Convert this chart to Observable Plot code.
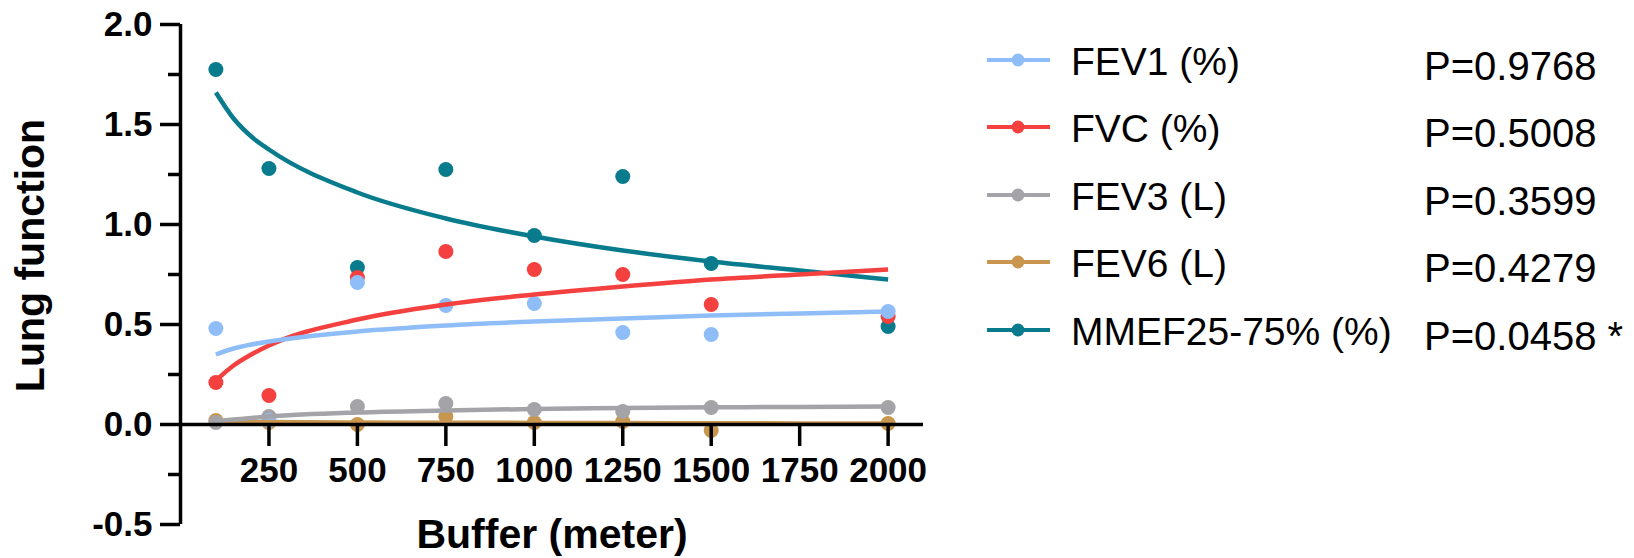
<!DOCTYPE html>
<html>
<head>
<meta charset="utf-8">
<script src="https://cdn.jsdelivr.net/npm/d3@7"></script>
<script src="https://cdn.jsdelivr.net/npm/@observablehq/plot@0.6"></script>
<style>
  html, body { margin: 0; padding: 0; background: #fff; }
  #wrap { position: relative; width: 1634px; height: 558px; font-family: "Liberation Sans", Arial, sans-serif; }
  #chart { position: absolute; left: 0; top: 0; }
  .row { position: absolute; left: 0; height: 0; }
  .sw { position: absolute; left: 986px; top: -8px; }
  .name { position: absolute; left: 1071px; font-size: 39px; line-height: 1; white-space: nowrap; transform: translateY(-50%); color: #000; }
  .pval { position: absolute; left: 1424px; font-size: 40px; line-height: 1; white-space: nowrap; transform: translateY(-50%); color: #000; }
</style>
</head>
<body>
<div id="wrap"><div id="chart"></div><div id="legend"></div></div>
<script>
// ---- data ----
const buffers = [100, 250, 500, 750, 1000, 1250, 1500, 2000];
const seriesNames = ["FEV1 (%)", "FVC (%)", "FEV3 (L)", "FEV6 (L)", "MMEF25-75% (%)"];
const pValues = ["P=0.9768", "P=0.5008", "P=0.3599", "P=0.4279", "P=0.0458 *"];
const colors = ["#8fbdf8", "#f4403f", "#a3a3a8", "#c8964e", "#087b8c"];

const fev1 = [0.48, 0.02, 0.71, 0.595, 0.605, 0.46, 0.45, 0.565];
const fvc  = [0.21, 0.145, 0.735, 0.865, 0.775, 0.75, 0.60, 0.54];
const fev3 = [0.01, 0.04, 0.09, 0.105, 0.075, 0.065, 0.085, 0.085];
const fev6 = [0.02, 0.01, 0.0, 0.04, 0.01, 0.015, -0.03, 0.005];
const mmef = [1.775, 1.28, 0.785, 1.275, 0.945, 1.24, 0.805, 0.49];

// fitted curves
const curveX = [100, 150, 200, 250, 500, 750, 1000, 1250, 1500, 1750, 2000];
const fev1Fit = [0.35, 0.38, 0.40, 0.415, 0.465, 0.495, 0.515, 0.53, 0.545, 0.555, 0.565];
const fvcFit  = [0.22, 0.295, 0.35, 0.395, 0.525, 0.60, 0.65, 0.69, 0.725, 0.75, 0.775];
const fev3Fit = [0.015, 0.025, 0.033, 0.04, 0.06, 0.07, 0.078, 0.082, 0.086, 0.088, 0.09];
const fev6Fit = [0.015, 0.014, 0.013, 0.012, 0.01, 0.009, 0.008, 0.007, 0.006, 0.0055, 0.005];
const mmefFit = [1.66, 1.53, 1.44, 1.375, 1.16, 1.03, 0.94, 0.87, 0.815, 0.77, 0.725];

const xTicks = [250, 500, 750, 1000, 1250, 1500, 1750, 2000];
const yTicks = [-0.5, 0, 0.5, 1.0, 1.5, 2.0];
const yMinor = [-0.25, 0.25, 0.75, 1.25, 1.75];

// ---- build tables ----
const pointSets = [fev1, fvc, fev3, fev6, mmef];
const fitSets = [fev1Fit, fvcFit, fev3Fit, fev6Fit, mmefFit];
const drawOrder = [4, 3, 2, 1, 0];
const points = [];
const fits = [];
for (const s of drawOrder) {
  buffers.forEach((b, i) => points.push({series: seriesNames[s], x: b, y: pointSets[s][i], c: colors[s]}));
  curveX.forEach((b, i) => fits.push({series: seriesNames[s], x: b, y: fitSets[s][i], c: colors[s]}));
}

const font = "Liberation Sans, Arial, sans-serif";
const chart = Plot.plot({
  width: 960,
  height: 558,
  marginLeft: 180,
  marginRight: 37,
  marginTop: 24,
  marginBottom: 34,
  style: {fontFamily: font, background: "#fff", overflow: "visible"},
  x: {domain: [0, 2100], axis: null},
  y: {domain: [-0.5, 2], axis: null},
  marks: [
    Plot.dot(points, {x: "x", y: "y", r: 7.5, fill: "c", stroke: "none"}),
    Plot.line(fits, {x: "x", y: "y", z: "series", stroke: "c", strokeWidth: 4.5, curve: "monotone-x", strokeLinecap: "butt"}),
    Plot.ruleX([0], {stroke: "#000", strokeWidth: 3.5}),
    Plot.ruleY([0], {stroke: "#000", strokeWidth: 3.5}),
    Plot.axisY({ticks: yTicks, tickSize: 20, tickPadding: 8, strokeWidth: 3.5, tickFormat: d => d.toFixed(1), fontSize: 35, fontWeight: "bold", fill: "#000", label: null}),
    Plot.axisY({ticks: yMinor, tickSize: 12, strokeWidth: 3.5, text: null, label: null}),
    Plot.ruleX(xTicks, {x: d => d, y1: 0, y2: 0, insetBottom: -22, stroke: "#000", strokeWidth: 3.5}),
    Plot.text(xTicks, {x: d => d, y: 0, dy: 46, text: d => String(d), fontSize: 35, fontWeight: "bold", fill: "#000"}),
    Plot.text(["Buffer (meter)"], {text: d => d, frameAnchor: "bottom", lineAnchor: "middle", dy: 10, fontSize: 41, fontWeight: "bold", fill: "#000"}),
    Plot.text(["Lung function"], {text: d => d, frameAnchor: "left", textAnchor: "middle", lineAnchor: "middle", rotate: -90, dx: -150, dy: -19, fontSize: 41, fontWeight: "bold", fill: "#000"})
  ]
});
document.getElementById("chart").appendChild(chart);

// ---- legend ----
const legend = document.getElementById("legend");
seriesNames.forEach((name, i) => {
  const row = document.createElement("div");
  row.className = "row";
  row.style.top = (59.5 + 67.5 * i) + "px";
  const ns = "http://www.w3.org/2000/svg";
  const svg = document.createElementNS(ns, "svg");
  svg.setAttribute("class", "sw");
  svg.setAttribute("width", 66);
  svg.setAttribute("height", 16);
  const ln = document.createElementNS(ns, "line");
  ln.setAttribute("x1", 1); ln.setAttribute("x2", 64);
  ln.setAttribute("y1", 8); ln.setAttribute("y2", 8);
  ln.setAttribute("stroke", colors[i]); ln.setAttribute("stroke-width", 4);
  const c = document.createElementNS(ns, "circle");
  c.setAttribute("cx", 32); c.setAttribute("cy", 8); c.setAttribute("r", 6.5);
  c.setAttribute("fill", colors[i]);
  svg.appendChild(ln); svg.appendChild(c);
  row.appendChild(svg);
  const t = document.createElement("div");
  t.className = "name";
  t.style.top = "1px";
  t.textContent = name;
  row.appendChild(t);
  const p = document.createElement("div");
  p.className = "pval";
  p.style.top = "6px";
  p.textContent = pValues[i];
  row.appendChild(p);
  legend.appendChild(row);
});
</script>
</body>
</html>
